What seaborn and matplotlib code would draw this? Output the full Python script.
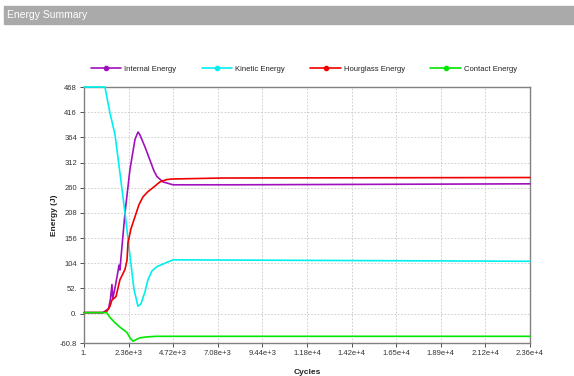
import pandas as pd
import matplotlib.pyplot as plt
import seaborn as sns
from matplotlib.lines import Line2D
from matplotlib.patches import Rectangle

# Energy curves (cycles, energy in J)
internal_cycles = [1, 1000, 1300, 1400, 1480, 1520, 1650, 1800, 1850, 1900, 2170,
                   2430, 2700, 2860, 2950, 3230, 3490, 3700, 3860, 4180, 4710, 8000, 23600]
internal_energy = [2, 2, 10, 30, 60, 30, 55, 87, 100, 90, 208,
                   297, 360, 375, 370, 344, 317, 295, 283, 272, 266, 266, 268]

kinetic_cycles = [1, 1110, 1375, 1640, 1904, 2169, 2433, 2645, 2857, 3015, 3227,
                  3386, 3597, 3862, 4285, 4708, 23600]
kinetic_energy = [468, 468, 414, 370, 290, 208, 120, 50, 15, 20, 45,
                  70, 88, 97, 104, 111, 108]

hourglass_cycles = [1, 1005, 1217, 1375, 1481, 1693, 1904, 2169, 2275, 2328, 2486,
                    2698, 2910, 3121, 3386, 3650, 4020, 4391, 4708, 7353, 23600]
hourglass_energy = [2, 2, 5, 15, 28, 35, 70, 91, 110, 146, 175,
                    200, 225, 241, 252, 260, 272, 277, 278, 280, 281]

contact_cycles = [1, 1200, 1375, 1640, 1904, 2275, 2433, 2592, 2751, 2962, 3386,
                  3862, 23600]
contact_energy = [2, 2, -8, -19, -28, -39, -50, -57, -54, -50, -48, -47, -47]

series_names = ["Internal Energy", "Kinetic Energy", "Hourglass Energy", "Contact Energy"]
series_colors = ["#a010bc", "#00f0f0", "#f00000", "#00e800"]

x_ticks = [1, 2360, 4720, 7080, 9440, 11800, 14160, 16520, 18880, 21240, 23600]
x_labels = ["1.", "2.36e+3", "4.72e+3", "7.08e+3", "9.44e+3", "1.18e+4",
            "1.42e+4", "1.65e+4", "1.89e+4", "2.12e+4", "2.36e+4"]
y_ticks = [-60.8, 0, 52, 104, 156, 208, 260, 312, 364, 416, 468]
y_labels = ["-60.8", "0.", "52.", "104", "156", "208", "260", "312", "364", "416", "468"]


def build_frame():
    parts = []
    for name, cyc, val in zip(series_names,
                              [internal_cycles, kinetic_cycles, hourglass_cycles, contact_cycles],
                              [internal_energy, kinetic_energy, hourglass_energy, contact_energy]):
        parts.append(pd.DataFrame({"Cycles": cyc, "Energy": val, "Series": name}))
    return pd.concat(parts, ignore_index=True)


def plot_energy_summary(df):
    sns.set_style("white")
    plt.rcParams['font.family'] = ['Liberation Sans', 'DejaVu Sans']

    fig = plt.figure(figsize=(5.74, 3.76), dpi=100)
    ax = fig.add_axes([84 / 574, 1 - 343 / 376, 446 / 574, 256 / 376])

    # grey title bar
    fig.patches.append(Rectangle((4 / 574, 1 - 24 / 376), 1 - 4 / 574, 18 / 376,
                                 transform=fig.transFigure, color="#aaaaaa", zorder=0))
    fig.text(7 / 574, 1 - 15 / 376, "Energy Summary", color="white", fontsize=7.5,
             va="center", ha="left")

    palette = dict(zip(series_names, series_colors))
    sns.lineplot(data=df, x="Cycles", y="Energy", hue="Series", palette=palette,
                 sort=False, estimator=None, linewidth=1.2, legend=False, ax=ax)
    # lines sit on top of the frame, like the original
    for ln in ax.lines:
        ln.set_zorder(3)
        ln.set_clip_on(False)

    ax.set_xlim(1, 23600)
    ax.set_ylim(-60.8, 468)
    ax.set_xticks(x_ticks)
    ax.set_xticklabels(x_labels)
    ax.set_yticks(y_ticks)
    ax.set_yticklabels(y_labels)
    ax.tick_params(labelsize=5.5, colors="#333333", length=3, width=0.6,
                   direction="out", bottom=True, left=True, pad=2)
    ax.grid(True, linestyle=(0, (2, 2)), color="#c8c8c8", linewidth=0.6)
    for s in ax.spines.values():
        s.set_color("#808080")
        s.set_linewidth(1)
        s.set_zorder(2)

    ax.set_xlabel("Cycles", fontsize=6, fontweight="bold", color="#222222", labelpad=9)
    ax.set_ylabel("Energy (J)", fontsize=6, fontweight="bold", color="#222222", labelpad=1)

    handles = [Line2D([0], [0], color=c, lw=1.2, marker="o", markersize=3)
               for c in series_colors]
    fig.legend(handles, series_names, loc="center left",
               bbox_to_anchor=(84 / 574, 1 - 69 / 376), ncol=4, frameon=False,
               fontsize=5.5, handlelength=4, handletextpad=0.4, columnspacing=3.3,
               labelcolor="#222222")

    fig.savefig("out.png", dpi=100)


def main():
    df = build_frame()
    plot_energy_summary(df)


if __name__ == '__main__':
    main()
